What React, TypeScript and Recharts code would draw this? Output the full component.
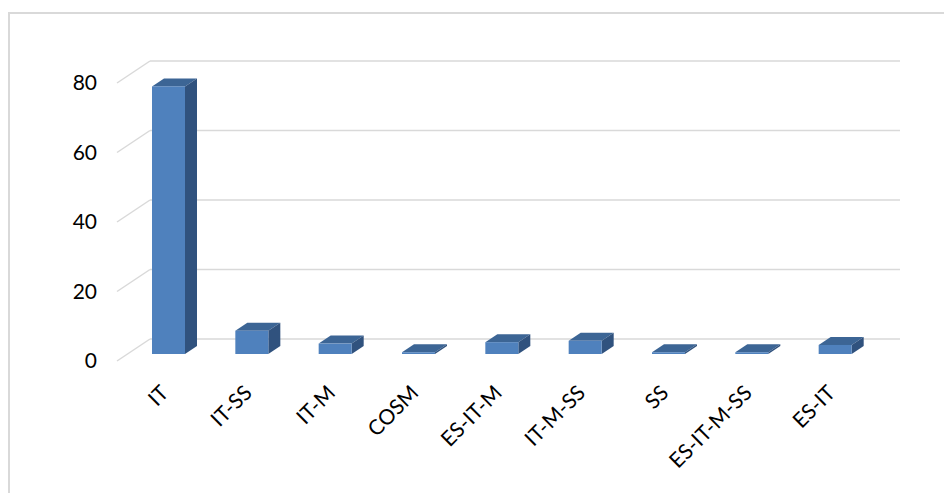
import { BarChart, Bar, XAxis, YAxis, CartesianGrid } from "recharts";

const categories = ["IT", "IT-SS", "IT-M", "COSM", "ES-IT-M", "IT-M-SS", "SS", "ES-IT-M-SS", "ES-IT"];
const counts = [77, 6.7, 3, 0.5, 3.4, 3.8, 0.5, 0.5, 2.6];
const yTicks = [0, 20, 40, 60, 80];

const data = categories.map((name, i) => ({ name, value: counts[i] }));

// fake 3D offsets
const WALL_DX = 33;
const WALL_DY = 22;
const BAR_DX = 10;
const BAR_DY = -7;
const DEPTH_X = 12;
const DEPTH_Y = 8;

const FONT = "Lato, 'Open Sans', sans-serif";

const GridLine = (props: any) => {
  const { x1, y1, x2 } = props;
  return (
    <g key={props.key}>
      <line x1={x1} y1={y1} x2={x1 + WALL_DX} y2={y1 - WALL_DY} stroke="#d9d9d9" strokeWidth={1.5} />
      <line x1={x1 + WALL_DX} y1={y1 - WALL_DY} x2={x2 + WALL_DX} y2={y1 - WALL_DY} stroke="#d9d9d9" strokeWidth={1.5} />
    </g>
  );
};

const Box = (props: any) => {
  const { x, y, width, height } = props;
  const fx = x + BAR_DX;
  const fy = y + BAR_DY;
  const h = Math.max(height, 0);
  return (
    <g>
      <polygon
        points={`${fx},${fy} ${fx + DEPTH_X},${fy - DEPTH_Y} ${fx + width + DEPTH_X},${fy - DEPTH_Y} ${fx + width},${fy}`}
        fill="#3c6595"
      />
      <polygon
        points={`${fx + width},${fy} ${fx + width + DEPTH_X},${fy - DEPTH_Y} ${fx + width + DEPTH_X},${fy + h - DEPTH_Y} ${fx + width},${fy + h}`}
        fill="#30527e"
      />
      <rect x={fx} y={fy} width={width} height={h} fill="#4f81bd" />
    </g>
  );
};

const CatTick = (props: any) => {
  const { x, y, payload } = props;
  return (
    <g transform={`translate(${x + 6},${y + 28}) rotate(-45)`}>
      <text textAnchor="end" dy="0.35em" fontSize={21} fontFamily={FONT} fill="#000">
        {payload.value}
      </text>
    </g>
  );
};

export default function App() {
  return (
    <div style={{ position: "fixed", left: 0, top: 0, width: 944, height: 493, background: "#fff" }}>
      <div
        style={{
          position: "absolute",
          left: 8,
          top: 12,
          width: 960,
          height: 500,
          borderLeft: "2px solid #d9d9d9",
          borderTop: "2px solid #d9d9d9",
        }}
      />
      <div style={{ position: "absolute", left: 0, top: 0 }}>
        <BarChart
          width={944}
          height={493}
          data={data}
          margin={{ top: 83, right: 77, bottom: 131, left: 57 }}
          barSize={33}
        >
          <CartesianGrid vertical={false} horizontal={GridLine} />
          <XAxis
            dataKey="name"
            interval={0}
            axisLine={false}
            tickLine={false}
            tickSize={0}
            tickMargin={0}
            tick={<CatTick />}
            height={1}
          />
          <YAxis
            domain={[0, 80]}
            ticks={yTicks}
            width={60}
            axisLine={false}
            tickLine={false}
            tickSize={0}
            tickMargin={20}
            tick={{ fontSize: 21, fontFamily: FONT, fill: "#000" }}
          />
          <Bar dataKey="value" shape={<Box />} isAnimationActive={false} />
        </BarChart>
      </div>
    </div>
  );
}
